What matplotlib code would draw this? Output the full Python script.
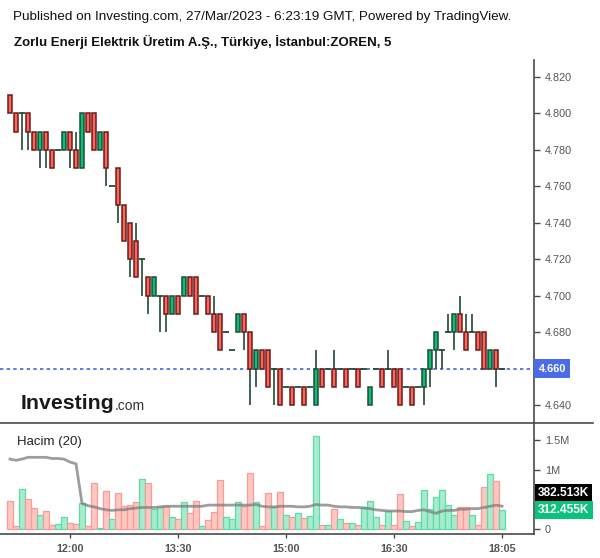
import matplotlib
matplotlib.use("Agg")
import matplotlib.pyplot as plt
import matplotlib.transforms as mtransforms
from matplotlib.lines import Line2D
import numpy as np

plt.rcParams['font.family'] = ['Liberation Sans', 'DejaVu Sans']

# ZOREN 5 dakikalik mumlar (okunan degerler)
opens = [4.81, 4.80, 4.80, 4.80, 4.79, 4.78, 4.79, 4.78, 4.78, 4.78,
         4.79, 4.78, 4.77, 4.80, 4.80, 4.78, 4.79, 4.76, 4.77, 4.75,
         4.74, 4.73, 4.72, 4.71, 4.70, 4.70, 4.70, 4.69, 4.70, 4.70,
         4.71, 4.71, 4.70, 4.70, 4.69, 4.69, 4.68, 4.67, 4.68, 4.69,
         4.68, 4.66, 4.67, 4.67, 4.66, 4.66, 4.65, 4.65, 4.65, 4.65,
         4.65, 4.64, 4.66, 4.66, 4.66, 4.66, 4.66, 4.66, 4.66, 4.66,
         4.64, 4.66, 4.66, 4.66, 4.66, 4.66, 4.65, 4.65, 4.65, 4.65,
         4.66, 4.67, 4.67, 4.68, 4.68, 4.69, 4.68, 4.68, 4.68, 4.68,
         4.66, 4.67, 4.66]
highs = [4.81, 4.80, 4.80, 4.80, 4.79, 4.79, 4.79, 4.78, 4.78, 4.79,
         4.79, 4.79, 4.80, 4.80, 4.80, 4.79, 4.79, 4.76, 4.77, 4.75,
         4.74, 4.74, 4.72, 4.71, 4.71, 4.70, 4.70, 4.70, 4.70, 4.71,
         4.71, 4.71, 4.70, 4.70, 4.70, 4.69, 4.68, 4.67, 4.69, 4.69,
         4.68, 4.67, 4.67, 4.67, 4.66, 4.66, 4.65, 4.65, 4.65, 4.65,
         4.65, 4.67, 4.66, 4.66, 4.67, 4.66, 4.66, 4.66, 4.66, 4.66,
         4.65, 4.66, 4.66, 4.67, 4.66, 4.66, 4.65, 4.65, 4.65, 4.66,
         4.67, 4.68, 4.67, 4.69, 4.69, 4.70, 4.69, 4.69, 4.68, 4.68,
         4.67, 4.67, 4.66]
lows = [4.80, 4.79, 4.78, 4.78, 4.78, 4.77, 4.77, 4.77, 4.78, 4.78,
        4.77, 4.77, 4.77, 4.79, 4.78, 4.78, 4.76, 4.76, 4.74, 4.73,
        4.71, 4.71, 4.70, 4.69, 4.70, 4.68, 4.68, 4.69, 4.69, 4.70,
        4.70, 4.69, 4.70, 4.69, 4.68, 4.67, 4.68, 4.67, 4.68, 4.67,
        4.64, 4.65, 4.66, 4.65, 4.64, 4.64, 4.65, 4.64, 4.65, 4.64,
        4.65, 4.64, 4.65, 4.66, 4.65, 4.66, 4.65, 4.66, 4.65, 4.66,
        4.64, 4.66, 4.65, 4.66, 4.65, 4.64, 4.65, 4.64, 4.65, 4.64,
        4.65, 4.66, 4.66, 4.68, 4.67, 4.68, 4.67, 4.68, 4.67, 4.66,
        4.66, 4.65, 4.66]
closes = [4.80, 4.79, 4.80, 4.79, 4.78, 4.79, 4.78, 4.77, 4.78, 4.79,
          4.78, 4.77, 4.80, 4.79, 4.78, 4.79, 4.77, 4.76, 4.75, 4.73,
          4.72, 4.71, 4.72, 4.70, 4.71, 4.70, 4.69, 4.70, 4.69, 4.71,
          4.70, 4.69, 4.70, 4.69, 4.68, 4.67, 4.68, 4.67, 4.69, 4.68,
          4.66, 4.67, 4.66, 4.65, 4.66, 4.64, 4.65, 4.64, 4.65, 4.64,
          4.65, 4.66, 4.65, 4.66, 4.65, 4.66, 4.65, 4.66, 4.65, 4.66,
          4.65, 4.66, 4.65, 4.66, 4.65, 4.64, 4.65, 4.64, 4.65, 4.66,
          4.67, 4.68, 4.67, 4.68, 4.69, 4.68, 4.67, 4.68, 4.67, 4.66,
          4.67, 4.66, 4.66]

# hacim (milyon)
volumes = [0.47, 0.045, 0.67, 0.50, 0.35, 0.23, 0.30, 0.06, 0.075, 0.19,
           0.09, 0.075, 0.43, 0.045, 0.77, 0.02, 0.64, 0.16, 0.60, 0.38,
           0.41, 0.45, 0.85, 0.77, 0.33, 0.36, 0.38, 0.20, 0.16, 0.45,
           0.26, 0.47, 0.04, 0.15, 0.28, 0.82, 0.20, 0.16, 0.46, 0.38,
           0.94, 0.45, 0.04, 0.60, 0.36, 0.62, 0.23, 0.20, 0.26, 0.18,
           0.21, 1.57, 0.07, 0.07, 0.33, 0.16, 0.09, 0.09, 0.07, 0.36,
           0.47, 0.20, 0.07, 0.30, 0.07, 0.59, 0.13, 0.04, 0.11, 0.65,
           0.33, 0.53, 0.65, 0.41, 0.23, 0.36, 0.36, 0.23, 0.06, 0.70,
           0.93, 0.81, 0.3125]
# hacim ortalamasi (20)
vol_ma = [1.18, 1.16, 1.18, 1.21, 1.21, 1.21, 1.21, 1.19, 1.19, 1.18,
          1.13, 1.10, 0.43, 0.39, 0.37, 0.34, 0.32, 0.31, 0.32, 0.32,
          0.34, 0.35, 0.36, 0.36, 0.36, 0.37, 0.38, 0.38, 0.38, 0.38,
          0.38, 0.38, 0.38, 0.40, 0.40, 0.40, 0.40, 0.40, 0.40, 0.40,
          0.40, 0.41, 0.38, 0.37, 0.37, 0.38, 0.38, 0.38, 0.37, 0.37,
          0.38, 0.41, 0.40, 0.40, 0.38, 0.37, 0.37, 0.36, 0.36, 0.35,
          0.34, 0.32, 0.31, 0.30, 0.30, 0.30, 0.29, 0.29, 0.31, 0.32,
          0.29, 0.26, 0.30, 0.31, 0.31, 0.33, 0.33, 0.34, 0.34, 0.36,
          0.38, 0.40, 0.3825]

time_labels = ["12:00", "13:30", "15:00", "16:30", "18:05"]
time_pos = [10, 28, 46, 64, 82]
price_ticks = [4.64, 4.66, 4.68, 4.70, 4.72, 4.74, 4.76, 4.78, 4.80, 4.82]
vol_ticks = [0, 1.0, 1.5]
vol_tick_labels = ["0", "1M", "1.5M"]
last_price = 4.66
last_vol_label = "312.455K"
ma_label = "382.513K"

RED_FILL, RED_EDGE = "#ff6459", "#6b1a1a"
GREEN_FILL, GREEN_EDGE = "#05c279", "#1d4d33"
WICK = "#1f4a33"
AXIS = "#4a4a4a"
TXT = "#555555"

W, H = 600, 558
fig = plt.figure(figsize=(W / 100, H / 100), dpi=100)

def fbox(x0, y0, x1, y1):
    return [x0 / W, 1 - y1 / H, (x1 - x0) / W, (y1 - y0) / H]

ax = fig.add_axes(fbox(0, 60, 534, 423))
vax = fig.add_axes(fbox(0, 423, 534, 534), sharex=ax)

o, h, l, c = map(np.array, (opens, highs, lows, closes))
x = np.arange(len(o))
up = c > o + 1e-9
down = c < o - 1e-9
flat = ~(up | down)

ax.vlines(x, l, h, color=WICK, lw=1.2, zorder=2)
ax.bar(x[up], (c - o)[up], bottom=o[up], width=0.68, color=GREEN_FILL,
       edgecolor=GREEN_EDGE, linewidth=1.1, zorder=3)
ax.bar(x[down], (o - c)[down], bottom=c[down], width=0.68, color=RED_FILL,
       edgecolor=RED_EDGE, linewidth=1.1, zorder=3)
ax.hlines(c[flat], x[flat] - 0.42, x[flat] + 0.42, color=WICK, lw=1.3, zorder=3)
ax.axhline(last_price, color="#3d63dd", lw=1.2, ls=(0, (2, 2)), zorder=1)

ax.set_xlim((0 - 10) / 6, (534 - 10) / 6)
ax.set_ylim(4.64 + (405 - 423) / 1822, 4.64 + (405 - 60) / 1822)
ax.yaxis.tick_right()
ax.set_yticks(price_ticks)
# son fiyat etiketi kutusu 4.660 tikinin ustune oturuyor
ax.set_yticklabels(["" if abs(p - last_price) < 1e-9 else f"{p:.3f}" for p in price_ticks])
ax.tick_params(axis="y", colors=AXIS, labelcolor=TXT, labelsize=7.8,
               length=4, width=1, pad=4)
ax.tick_params(axis="x", bottom=False, labelbottom=False)
for s in ("top", "left", "bottom"):
    ax.spines[s].set_visible(False)
ax.spines["right"].set_color(AXIS)
ax.spines["right"].set_linewidth(1.2)

ax.annotate(f"{last_price:.3f}", xy=(1.0, last_price),
            xycoords=mtransforms.blended_transform_factory(ax.transAxes, ax.transData),
            xytext=(3.2, 0), textcoords="offset points", ha="left", va="center",
            color="white", weight="bold", fontsize=7.8,
            bbox=dict(boxstyle="square,pad=0.38", fc="#4a6de5", ec="none"),
            annotation_clip=False)

# hacim paneli
vcol = np.where(c >= o - 1e-9, "#a6eccf", "#ffc7c2")
vedge = np.where(c >= o - 1e-9, "#5fdba6", "#f79d96")
vax.bar(x, volumes, width=0.86, color=vcol, edgecolor=vedge, linewidth=0.9, zorder=2)
vax.plot(x, vol_ma, color="#7d7d7d", lw=2, alpha=0.75, zorder=3)
vax.set_ylim((528.7 - 534) / 59, (528.7 - 423) / 59)
vax.yaxis.tick_right()
vax.set_yticks(vol_ticks)
vax.set_yticklabels(vol_tick_labels)
vax.tick_params(axis="y", colors=AXIS, labelcolor=TXT, labelsize=7.8,
                length=4, width=1, pad=4)
vax.set_xticks(time_pos)
vax.set_xticklabels(time_labels)
vax.tick_params(axis="x", colors=AXIS, labelcolor=TXT, labelsize=7.8,
                length=3, width=1, pad=4)
for t in vax.get_xticklabels():
    t.set_fontweight("bold")
vax.spines["top"].set_visible(False)
vax.spines["left"].set_visible(False)
for s in ("right", "bottom"):
    vax.spines[s].set_color(AXIS)
    vax.spines[s].set_linewidth(1.2)

vtrans = mtransforms.blended_transform_factory(vax.transAxes, vax.transData)
vax.annotate(ma_label, xy=(1.0, volumes[-1] + 0.29), xycoords=vtrans,
             xytext=(3, 0), textcoords="offset points", ha="left", va="center",
             color="white", weight="bold", fontsize=8.6,
             bbox=dict(boxstyle="square,pad=0.25", fc="black", ec="none"),
             annotation_clip=False)
vax.annotate(last_vol_label, xy=(1.0, volumes[-1]), xycoords=vtrans,
             xytext=(3, 0), textcoords="offset points", ha="left", va="center",
             color="white", weight="bold", fontsize=8.6,
             bbox=dict(boxstyle="square,pad=0.25", fc="#0bc27c", ec="none"),
             annotation_clip=False)
vax.text(17 / 534, 0.83, "Hacim (20)", transform=vax.transAxes, fontsize=9.5,
         color="#222222", va="center")

# panel ayirici cizgi
fig.add_artist(Line2D([0, 593 / W], [1 - 423 / H, 1 - 423 / H],
                      color=AXIS, lw=1.2, transform=fig.transFigure))

# basliklar
fig.text(13 / W, 1 - 17 / H,
         "Published on Investing.com, 27/Mar/2023 - 6:23:19 GMT, Powered by TradingView.",
         fontsize=9.7, color="#111111", va="center")
fig.text(14 / W, 1 - 42 / H,
         "Zorlu Enerji Elektrik Üretim A.Ş., Türkiye, İstanbul:ZOREN, 5",
         fontsize=9.5, weight="bold", color="#111111", va="center")

# Investing.com filigrani
wm = fig.text(21 / W, 1 - 409 / H, "Investing", fontsize=15.3, weight="bold",
              color="#1a1a1a", va="baseline")
ax.annotate(".com", xy=(1, 0), xycoords=wm, va="bottom", ha="left",
            fontsize=10, color="#333333", annotation_clip=False)

fig.savefig("out.png", dpi=100)
